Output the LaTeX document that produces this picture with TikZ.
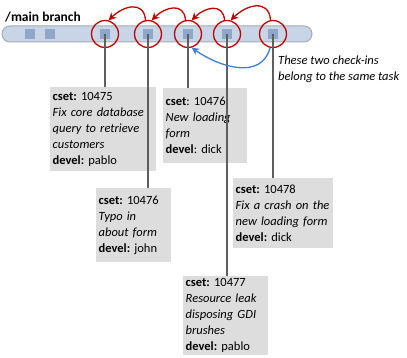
\documentclass[tikz,border=0pt]{standalone}
\usepackage{fontspec}
\setmainfont{Carlito}
\usetikzlibrary{arrows.meta,calc,positioning}
\definecolor{rail}{HTML}{C8D5E6}
\definecolor{railedge}{HTML}{A3ABB4}
\definecolor{chip}{HTML}{8FA7C9}
\definecolor{ring}{HTML}{C00000}
\definecolor{link}{HTML}{3D7FD6}
\definecolor{card}{HTML}{DDDDDD}
\definecolor{stemc}{HTML}{5F5F5F}
\frenchspacing

\begin{document}
\begin{tikzpicture}[x=1pt,y=-1pt,font=\fontsize{12.5}{16}\selectfont,
  loop/.style={circle,draw=ring,line width=1.3pt,minimum size=27pt,inner sep=0pt},
  hop/.style={draw=ring,line width=1.3pt,-{Stealth[length=7.5pt,width=7.5pt]}},
  stem/.style={draw=stemc,line width=1.2pt},
  card/.style={fill=card,anchor=north west,align=left,inner xsep=2.5pt,inner ysep=2pt}]
\useasboundingbox (0,0) rectangle (407,358);
% the branch
\draw[fill=rail,draw=railedge,line width=1pt,rounded corners=8pt] (2,26) rectangle (312,42);
\node[font=\fontsize{13.5}{16}\selectfont\bfseries,anchor=west,inner sep=0pt] (title) at (5,17) {/main branch};
\foreach \x in {30,50,105,148,188,227,273} {\fill[chip] (\x-5,29) rectangle (\x+5,39);}
\foreach \x [count=\i] in {105,148,188,227,273} {\node[loop] (c\i) at (\x,34) {};}
% the changesets
\node[card,text width=101pt,minimum height=84pt] (b1) at (50,87) {\textbf{cset:} 10475\\\textit{Fix core database}\\\textit{query to retrieve}\\\textit{customers}\\\textbf{devel:} pablo};
\node[card,text width=79pt,minimum height=75pt] (b3) at (163,88) {\textbf{cset}: 10476\\\textit{New loading}\\\textit{form}\\\textbf{devel}: dick};
\node[card,text width=70pt,minimum height=74pt] (b2) at (96,188) {\textbf{cset:} 10476\\\textit{Typo in}\\\textit{about form}\\\textbf{devel:} john};
\node[card,text width=95pt,minimum height=70pt] (b5) at (233,178) {\textbf{cset:} 10478\\\textit{Fix a crash on the}\\\textit{new loading form}\\\textbf{devel:} dick};
\node[card,text width=80pt,minimum height=79pt] (b4) at (183,276) {\textbf{cset:} 10477\\\textit{Resource leak}\\\textit{disposing GDI}\\\textit{brushes}\\\textbf{devel:} pablo};
\foreach \i in {1,...,5} {\draw[stem] (c\i.center) -- (c\i.center |- b\i.north);}
% merge order
\foreach \i/\j in {2/1,3/2,4/3,5/4} {\draw[hop] (c\i.100) to[out=95,in=45,looseness=1.4] (c\j.75);}
\draw[draw=link,line width=1.3pt,-{Stealth[length=7.5pt,width=7.5pt]}] (c5.258) to[out=-105,in=-35,looseness=1.1] (c3.285);
\node[font=\fontsize{12.5}{16}\selectfont\itshape,anchor=north west,align=left,inner sep=0pt] (note) at (278,56) {These two check-ins\\belong to the same task};
\end{tikzpicture}
\end{document}
